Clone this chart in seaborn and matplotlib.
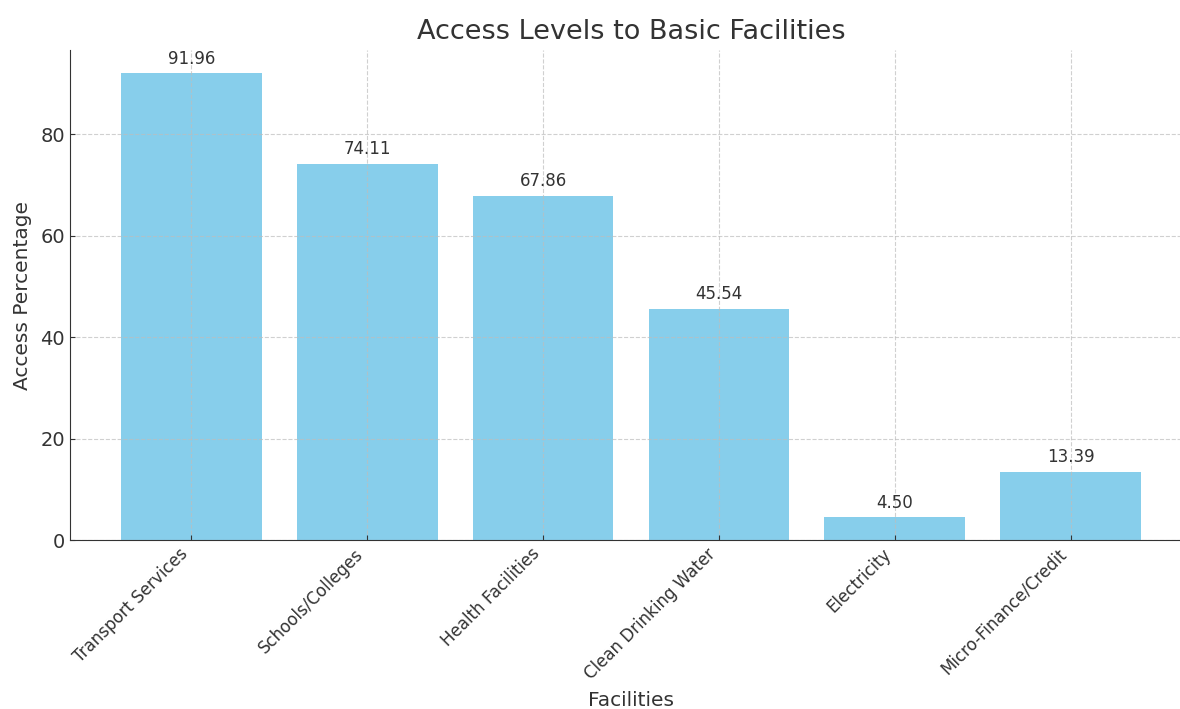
import matplotlib
matplotlib.use("Agg")
import matplotlib.pyplot as plt
import seaborn as sns
import pandas as pd

facilities = ["Transport Services", "Schools/Colleges", "Health Facilities",
              "Clean Drinking Water", "Electricity", "Micro-Finance/Credit"]
access_pct = [91.96, 74.11, 67.86, 45.54, 4.50, 13.39]

df = pd.DataFrame({"Facilities": facilities, "Access Percentage": access_pct})

text_color = "#333333"
plt.rcParams.update({
    "text.color": text_color,
    "axes.labelcolor": text_color,
    "xtick.color": text_color,
    "ytick.color": text_color,
    "axes.edgecolor": text_color,
    "font.family": ["DejaVu Sans"],
})

fig = plt.figure(figsize=(11.8, 7.09), dpi=100)
# axes run slightly past the right edge of the canvas
ax = fig.add_axes([70 / 1180, 1 - 540 / 709, 1122 / 1180, (540 - 50) / 709])

sns.barplot(data=df, x="Facilities", y="Access Percentage", color="skyblue",
            saturation=1, width=0.8, ax=ax)

for i, v in enumerate(access_pct):
    ax.annotate(f"{v:.2f}", (i, v), xytext=(0, 4), textcoords="offset points",
                ha="center", va="bottom", fontsize=12, color=text_color)

n = len(facilities)
pad = 0.05 * (n - 1 + 0.8)
ax.set_xlim(-0.4 - pad, n - 1 + 0.4 + pad)
ax.set_ylim(0, max(access_pct) * 1.05)
ax.set_axisbelow("line")
ax.grid(True, linestyle="--", color="#bdbdbd", alpha=0.7, linewidth=0.8)
ax.spines["top"].set_visible(False)
ax.spines["right"].set_visible(False)
ax.tick_params(axis="both", direction="in")
ax.tick_params(axis="y", labelsize=14)
ax.tick_params(axis="x", labelsize=12)
plt.setp(ax.get_xticklabels(), rotation=45, ha="right")
ax.set_yticks([0, 20, 40, 60, 80])

ax.set_title("Access Levels to Basic Facilities", fontsize=19.5, pad=8, color=text_color)
ax.set_xlabel("Facilities", fontsize=14.5, labelpad=6)
ax.set_ylabel("Access Percentage", fontsize=14.5, labelpad=6)

fig.savefig("out.png", dpi=100)
